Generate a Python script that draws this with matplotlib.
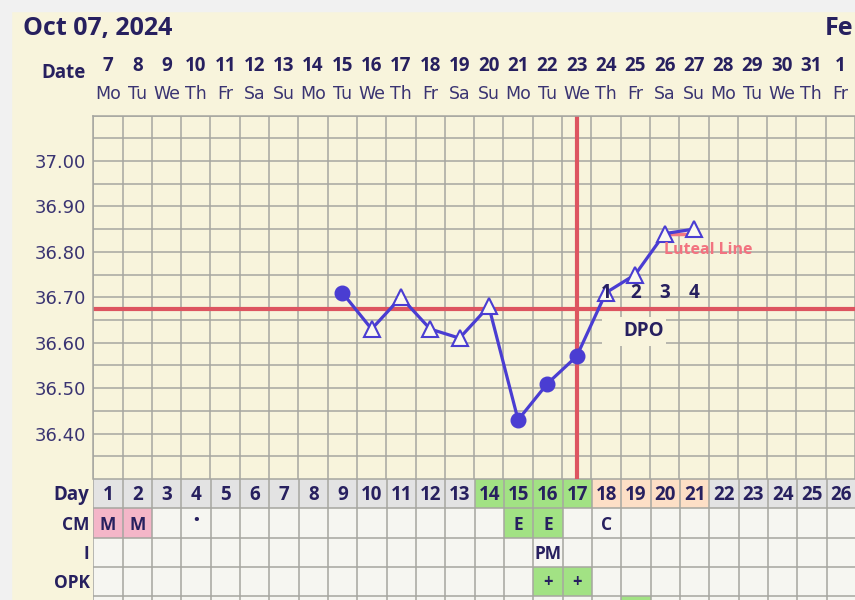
import matplotlib
matplotlib.use("Agg")
import matplotlib.pyplot as plt
from matplotlib.patches import Rectangle
from matplotlib.transforms import blended_transform_factory
import numpy as np

# ---------------- data ----------------
title = "Oct 07, 2024"
next_title = "Fe"
dates = list(range(7, 32)) + [1]
weekday_names = ["Mo", "Tu", "We", "Th", "Fr", "Sa", "Su"]
weekdays = [weekday_names[i % 7] for i in range(len(dates))]
cycle_days = list(range(1, len(dates) + 1))

temp_days = [9, 10, 11, 12, 13, 14, 15, 16, 17, 18, 19, 20, 21]
temps = [36.71, 36.63, 36.70, 36.63, 36.61, 36.68, 36.43, 36.51, 36.57,
         36.71, 36.75, 36.84, 36.85]
filled_days = [9, 15, 16, 17]          # filled circles, others are open triangles

coverline = 36.675
ovulation_day = 17
luteal_days = [20, 21]
luteal_value = 36.84
dpo_days = [18, 19, 20, 21]
dpo_labels = ["1", "2", "3", "4"]

ytick_vals = [36.40, 36.50, 36.60, 36.70, 36.80, 36.90, 37.00]

fertile_days = [14, 15, 16, 17]
luteal_phase_days = [18, 19, 20, 21]
row_labels = ["Day", "CM", "I", "OPK"]
cm_text = {1: "M", 2: "M", 4: "\u2022", 15: "E", 16: "E", 18: "C"}
cm_fill = {1: "pink", 2: "pink", 15: "green", 16: "green"}
intercourse_text = {16: "PM"}
opk_text = {16: "+", 17: "+"}
opk_fill = {16: "green", 17: "green"}
row5_fill = {19: "green"}

# ---------------- style ----------------
W, H = 855, 600
CREAM = "#F8F4DC"
NAVY = "#27205F"
SOFT = "#3A3472"
BLUE = "#4A3DD2"
RED = "#DD5560"
GRID = "#A6A6A0"
CELL = "#F6F6F1"
GRAY = "#E3E3E3"
COLS = {"green": "#A2E284", "pink": "#F4B6C8", "peach": "#FDDFC6"}
BOLD = ["Open Sans", "DejaVu Sans"]

fig = plt.figure(figsize=(W / 100, H / 100), dpi=100)
fig.patch.set_facecolor(CREAM)
fig.patches.append(Rectangle((0, 0), 11 / W, 1, transform=fig.transFigure,
                             color="#F1F1F1", zorder=0))
fig.patches.append(Rectangle((0, 1 - 11 / H), 1, 11 / H, transform=fig.transFigure,
                             color="#F1F1F1", zorder=0))

x0px, colw = 93.3, 29.33
top_px, chart_bot_px = 115.5, 479.0
left = x0px / W
xlim = (0.5, 0.5 + (W - x0px) / colw)

# ---------------- temperature chart ----------------
ax = fig.add_axes([left, 1 - chart_bot_px / H, 1 - left, (chart_bot_px - top_px) / H])
ax.set_facecolor("none")
ax.set_xlim(*xlim)
ax.set_ylim(36.30, 37.10)
ax.set_xticks(np.arange(0.5, 27.0, 1.0))
ax.set_yticks(ytick_vals)
ax.set_yticks(np.arange(36.30, 37.101, 0.05), minor=True)
ax.set_yticklabels([f"{v:.2f}" for v in ytick_vals])
ax.tick_params(axis="x", which="both", length=0, labelbottom=False)
ax.tick_params(axis="y", which="both", length=0, pad=5.3, labelsize=13,
               labelcolor=SOFT)
ax.grid(True, which="both", color=GRID, linewidth=1.1)
for s in ["right", "bottom"]:
    ax.spines[s].set_visible(False)
for s in ["left", "top"]:
    ax.spines[s].set_color(GRID)
    ax.spines[s].set_linewidth(1.1)

ax.axhline(coverline, color=RED, lw=3.0, zorder=2)
ax.axvline(ovulation_day, ymin=0.0055, ymax=1.0, color=RED, lw=3.0, zorder=2)

# DPO box + labels
ax.add_patch(Rectangle((17.87, 36.592), 2.18, 0.065, facecolor=CREAM,
                       edgecolor="none", zorder=2.2))
ax.text(19.27, 36.625, "DPO", ha="center", va="center", fontsize=13.5,
        fontweight="bold", color=NAVY, family=BOLD, zorder=5)
for d, lab in zip(dpo_days, dpo_labels):
    ax.text(d, 36.71, lab, ha="center", va="center", fontsize=13.5,
            fontweight="bold", color=NAVY, family=BOLD, zorder=5)

# luteal line
ax.plot(luteal_days, [luteal_value] * len(luteal_days), color="#F27883",
        lw=2.5, zorder=2.6)
ax.text(19.98, 36.805, "Luteal Line", ha="left", va="center", fontsize=11.5,
        fontweight="bold", color="#F27380", family=BOLD, zorder=5)

ax.plot(temp_days, temps, color=BLUE, lw=2.3, zorder=3, solid_capstyle="round")
fd = [d for d in temp_days if d in filled_days]
ft = [t for d, t in zip(temp_days, temps) if d in filled_days]
od = [d for d in temp_days if d not in filled_days]
ot = [t for d, t in zip(temp_days, temps) if d not in filled_days]
ax.plot(fd, ft, "o", color=BLUE, markersize=10.5, zorder=4)
ax.plot(od, ot, "^", markerfacecolor="#FBF9EE", markeredgecolor=BLUE,
        markersize=11, markeredgewidth=1.5, zorder=4)

# header
trans = blended_transform_factory(ax.transData, fig.transFigure)
fig.text(23 / W, 1 - 35 / H, title, ha="left", va="baseline", fontsize=18,
         fontweight="bold", color=NAVY, family=BOLD)
fig.text(853 / W, 1 - 35 / H, next_title, ha="right", va="baseline", fontsize=18,
         fontweight="bold", color=NAVY, family=BOLD)
fig.text(86 / W, 1 - 78.3 / H, "Date", ha="right", va="baseline", fontsize=13.5,
         fontweight="bold", color=NAVY, family=BOLD)
for d, dt, wd in zip(cycle_days, dates, weekdays):
    ax.text(d, 1 - 71 / H, str(dt), transform=trans, ha="center", va="baseline",
            fontsize=13.5, fontweight="bold", color=NAVY, family=BOLD, clip_on=False)
    ax.text(d, 1 - 99.5 / H, wd, transform=trans, ha="center", va="baseline",
            fontsize=12.5, color=SOFT, clip_on=False)

# ---------------- table ----------------
rowh = 29.25
nrows_vis = (H - chart_bot_px) / rowh
ax2 = fig.add_axes([left, 0, 1 - left, (H - chart_bot_px) / H])
ax2.set_xlim(*xlim)
ax2.set_ylim(nrows_vis, 0)
ax2.set_axis_off()
ax2.add_patch(Rectangle((xlim[0], 0), xlim[1] - xlim[0], nrows_vis,
                        facecolor=CELL, edgecolor="none", zorder=0.5))

def cell(day, row, color):
    ax2.add_patch(Rectangle((day - 0.5, row), 1, 1, facecolor=color,
                            edgecolor="none", zorder=1))

def ctext(day, row, s, size=13, dy=0.735):
    ax2.text(day, row + dy, s, ha="center", va="baseline", fontsize=size,
             fontweight="bold", color=NAVY, family=BOLD, zorder=4)

for d in cycle_days:
    if d in fertile_days:
        c = COLS["green"]
    elif d in luteal_phase_days:
        c = COLS["peach"]
    else:
        c = GRAY
    cell(d, 0, c)
    ctext(d, 0, str(d), size=13.5)
for d, k in cm_fill.items():
    cell(d, 1, COLS[k])
for d, s in cm_text.items():
    if s == "\u2022":
        ctext(d, 1, s, size=11, dy=0.55)
    else:
        ctext(d, 1, s, size=12.5)
for d, s in intercourse_text.items():
    ctext(d, 2, s, size=12.5)
for d, k in opk_fill.items():
    cell(d, 3, COLS[k])
for d, s in opk_text.items():
    ctext(d, 3, s, size=12, dy=0.68)
for d, k in row5_fill.items():
    cell(d, 4, COLS[k])

ax2.vlines(np.arange(0.5, 27.0, 1.0), 0, nrows_vis, color=GRID, lw=1.1, zorder=2.5)
ax2.hlines(np.arange(0, 5), xlim[0], xlim[1], color=GRID, lw=1.1, zorder=2.5)

tr2 = blended_transform_factory(fig.transFigure, ax2.transData)
for i, lab in enumerate(row_labels):
    ax2.text(89.5 / W, i + 0.735, lab, transform=tr2, ha="right", va="baseline",
             fontsize=13.5 if i == 0 else 12.5, fontweight="bold", color=NAVY,
             family=BOLD, clip_on=False)

fig.savefig("out.png", dpi=100, facecolor=fig.get_facecolor())
